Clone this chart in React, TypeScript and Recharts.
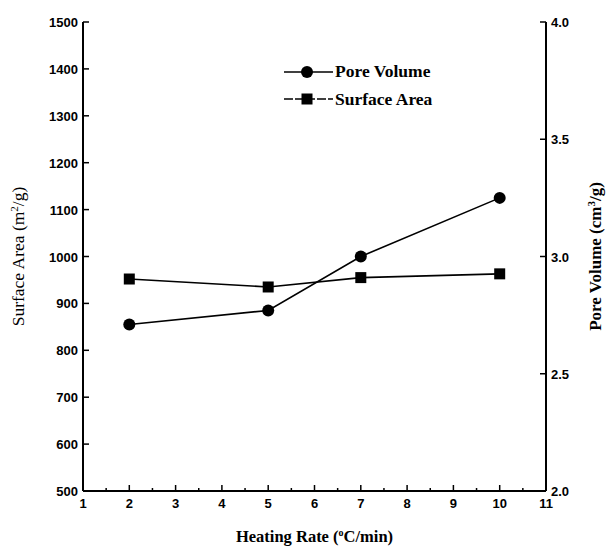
import React from "react";
import {
  LineChart, Line, XAxis, YAxis,
} from "recharts";

const heatingRate = [2, 5, 7, 10];
const poreVolume = [2.71, 2.77, 3.0, 3.25];
const surfaceArea = [952, 935, 955, 963];

const xTicks = [1, 1.5, 2, 2.5, 3, 3.5, 4, 4.5, 5, 5.5, 6, 6.5, 7, 7.5, 8, 8.5, 9, 9.5, 10, 10.5, 11];
const areaTicks = [500, 600, 700, 800, 900, 1000, 1100, 1200, 1300, 1400, 1500];
const volumeTicks = [2.0, 2.5, 3.0, 3.5, 4.0];

const data = heatingRate.map((x, i) => ({
  rate: x,
  pore: poreVolume[i],
  area: surfaceArea[i],
}));

const SANS = "'Liberation Sans', Arial, sans-serif";
const SERIF = "'Liberation Serif', 'Times New Roman', serif";

const BottomTick = ({ x, y, payload }: any) => {
  const major = Number.isInteger(payload.value);
  return (
    <g>
      <line x1={x} x2={x} y1={y} y2={y - (major ? 6 : 3)} stroke="#000" strokeWidth={1.5} />
      {major && (
        <text x={x} y={y + 17} textAnchor="middle" fontFamily={SANS} fontWeight="bold" fontSize={13} fill="#000">
          {payload.value}
        </text>
      )}
    </g>
  );
};

const TopTick = ({ x, y, payload }: any) => {
  const major = Number.isInteger(payload.value);
  return <line x1={x} x2={x} y1={y} y2={y + (major ? 6 : 3)} stroke="#000" strokeWidth={1.5} />;
};

const LeftTick = ({ x, y, payload }: any) => (
  <g>
    <line x1={x} x2={x + 6} y1={y} y2={y} stroke="#000" strokeWidth={1.5} />
    <text x={x - 5} y={y + 5} textAnchor="end" fontFamily={SANS} fontWeight="bold" fontSize={13} fill="#000">
      {payload.value}
    </text>
  </g>
);

const RightTick = ({ x, y, payload }: any) => (
  <g>
    <line x1={x} x2={x - 6} y1={y} y2={y} stroke="#000" strokeWidth={1.5} />
    <text x={x + 5} y={y + 5} textAnchor="start" fontFamily={SANS} fontWeight="bold" fontSize={13} fill="#000">
      {Number(payload.value).toFixed(1)}
    </text>
  </g>
);

const SquareDot = ({ cx, cy, index }: any) => (
  <rect key={`sq-${index}`} x={cx - 5.5} y={cy - 5.5} width={11} height={11} fill="#000" />
);

const CircleDot = ({ cx, cy, index }: any) => (
  <circle key={`c-${index}`} cx={cx} cy={cy} r={6} fill="#000" />
);

const LegendBox = () => (
  <svg width={180} height={60} style={{ position: "absolute", left: 283, top: 60 }}>
    <line x1={1} x2={50} y1={12} y2={12} stroke="#000" strokeWidth={1.5} />
    <circle cx={24} cy={12} r={6} fill="#000" />
    <text x={52} y={17} fontFamily={SERIF} fontWeight="bold" fontSize={17.5} fill="#000">Pore Volume</text>
    <line x1={1} x2={50} y1={39} y2={39} stroke="#000" strokeWidth={1.5} strokeDasharray="9 2" />
    <rect x={18.5} y={33.5} width={11} height={11} fill="#000" />
    <text x={52} y={45} fontFamily={SERIF} fontWeight="bold" fontSize={17.5} fill="#000">Surface Area</text>
  </svg>
);

export default function App() {
  return (
    <div style={{ position: "absolute", left: 0, top: 0, width: 614, height: 547, background: "#fff" }}>
      <LineChart
        width={614}
        height={547}
        data={data}
        margin={{ top: 22, right: 0, bottom: 0, left: 0 }}
      >
        <XAxis
          xAxisId="b"
          dataKey="rate"
          type="number"
          domain={[1, 11]}
          ticks={xTicks}
          interval={0}
          height={56}
          tickSize={0}
          tickMargin={0}
          tickLine={false}
          axisLine={{ stroke: "#000", strokeWidth: 2 }}
          tick={<BottomTick />}
          label={{
            content: ({ viewBox }: any) => (
              <text x={viewBox.x + viewBox.width / 2} y={viewBox.y + 51} textAnchor="middle" fontFamily={SERIF} fontWeight="bold" fontSize={16.5} fill="#000">
                Heating Rate (<tspan dy={-6} fontSize={10}>o</tspan><tspan dy={6}>C/min)</tspan>
              </text>
            ),
          }}
        />
        <XAxis
          xAxisId="t"
          orientation="top"
          dataKey="rate"
          type="number"
          domain={[1, 11]}
          ticks={xTicks}
          interval={0}
          height={0}
          tickSize={0}
          tickMargin={0}
          tickLine={false}
          axisLine={{ stroke: "#000", strokeWidth: 2 }}
          tick={<TopTick />}
        />
        <YAxis
          yAxisId="area"
          domain={[500, 1500]}
          ticks={areaTicks}
          interval={0}
          width={83}
          tickSize={0}
          tickMargin={0}
          tickLine={false}
          axisLine={{ stroke: "#000", strokeWidth: 2 }}
          tick={<LeftTick />}
          label={{
            content: ({ viewBox }: any) => {
              const cx = viewBox.x + 24;
              const cy = viewBox.y + viewBox.height / 2;
              return (
                <text transform={`translate(${cx},${cy}) rotate(-90)`} textAnchor="middle" fontFamily={SERIF} fontSize={17.5} fill="#000">
                  Surface Area (m<tspan dy={-6} fontSize={11}>2</tspan><tspan dy={6}>/g)</tspan>
                </text>
              );
            },
          }}
        />
        <YAxis
          yAxisId="pore"
          orientation="right"
          domain={[2, 4]}
          ticks={volumeTicks}
          interval={0}
          width={68}
          tickSize={0}
          tickMargin={0}
          tickLine={false}
          axisLine={{ stroke: "#000", strokeWidth: 2 }}
          tick={<RightTick />}
          label={{
            content: ({ viewBox }: any) => {
              const cx = viewBox.x + 55;
              const cy = viewBox.y + viewBox.height / 2;
              return (
                <text transform={`translate(${cx},${cy}) rotate(-90)`} textAnchor="middle" fontFamily={SERIF} fontWeight="bold" fontSize={17} fill="#000">
                  Pore Volume (cm<tspan dy={-6} fontSize={11}>3</tspan><tspan dy={6}>/g)</tspan>
                </text>
              );
            },
          }}
        />
        <Line
          xAxisId="b"
          yAxisId="pore"
          dataKey="pore"
          name="Pore Volume"
          stroke="#000"
          strokeWidth={1.6}
          dot={CircleDot}
          activeDot={false}
          isAnimationActive={false}
        />
        <Line
          xAxisId="b"
          yAxisId="area"
          dataKey="area"
          name="Surface Area"
          stroke="#000"
          strokeWidth={1.6}
          dot={SquareDot}
          activeDot={false}
          isAnimationActive={false}
        />
      </LineChart>
      <LegendBox />
    </div>
  );
}
